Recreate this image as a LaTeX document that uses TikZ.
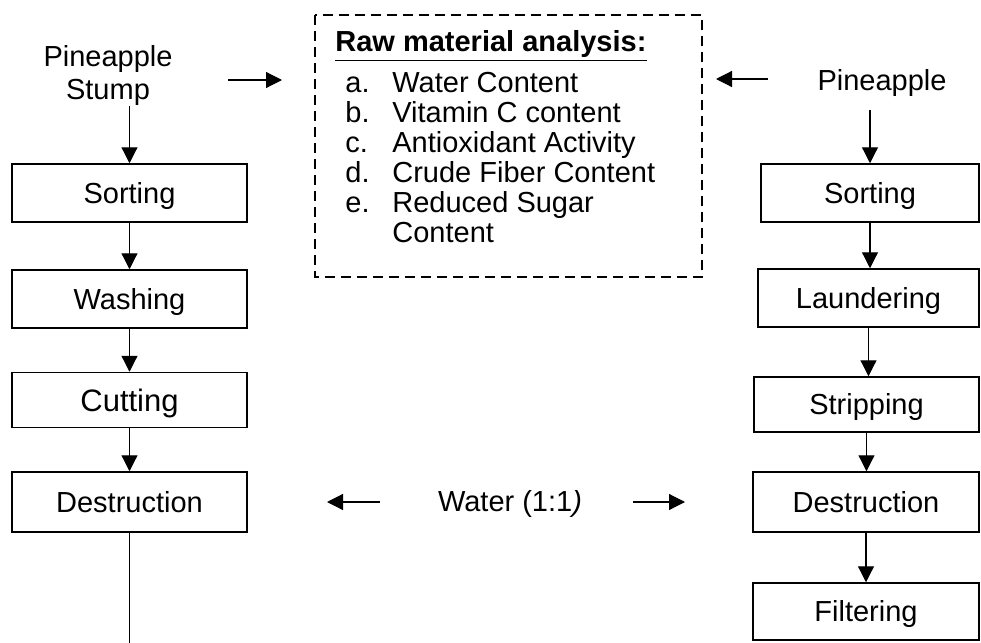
\documentclass[tikz,border=0pt]{standalone}
\usepackage{fontspec}
\setmainfont{Liberation Sans}
\usetikzlibrary{arrows.meta}

\tikzset{
  stepbox/.style={draw, line width=0.75pt, minimum height=29pt, inner sep=0pt,
    text height=10.4pt, text depth=0pt, font=\fontsize{14.5}{17}\selectfont},
  lbox/.style={stepbox, minimum width=117.5pt},
  arr/.style={-{Triangle[length=8pt,width=8pt]}, line width=0.6pt},
  dashbox/.style={draw, dash pattern=on 5pt off 3pt, line width=0.9pt},
  txt/.style={inner sep=0pt, font=\fontsize{14.5}{16.5}\selectfont}
}

\begin{document}
\begin{tikzpicture}[x=0.5pt,y=-0.5pt]
  \useasboundingbox[fill=white] (0,0) rectangle (981,643);

  % left column: pineapple stump
  \node[txt, anchor=north, align=center] (lsrc) at (108,45) {Pineapple\\Stump};
  \node[lbox] (lsort) at (129.5,193) {Sorting};
  \node[lbox] (lwash) at (129.5,299) {Washing};
  \node[lbox, minimum height=27.5pt, text height=11pt, font=\fontsize{15.5}{18}\selectfont] (lcut) at (129.5,400) {Cutting};
  \node[lbox, minimum height=30pt] (ldest) at (129.5,502) {Destruction};
  \coordinate (lend) at (129.5,643);

  % right column: pineapple peel
  \node[txt, anchor=base] (rsrc) at (882,90) {Pineapple};
  \node[stepbox, minimum width=109pt] (rsort) at (870,193) {Sorting};
  \node[stepbox, minimum width=110.5pt] (rlaund) at (868.5,298) {Laundering};
  \node[stepbox, minimum width=112.5pt, minimum height=27.5pt] (rstrip) at (866.5,404.5) {Stripping};
  \node[stepbox, minimum width=113pt, minimum height=30pt] (rdest) at (866,502) {Destruction};
  \node[stepbox, minimum width=113pt, minimum height=28.5pt] (rfilt) at (866,611.5) {Filtering};

  % analysis box
  \draw[dashbox] (315,15) rectangle (702,277);
  \node[txt, anchor=north west, align=left, font=\fontsize{14.5}{15}\selectfont] (raw) at (335,30)
    {\textbf{\underline{Raw material analysis:}}\\[4.5pt]
     \hspace*{5pt}\makebox[23.5pt][l]{a.}Water Content\\
     \hspace*{5pt}\makebox[23.5pt][l]{b.}Vitamin C content\\
     \hspace*{5pt}\makebox[23.5pt][l]{c.}Antioxidant Activity\\
     \hspace*{5pt}\makebox[23.5pt][l]{d.}Crude Fiber Content\\
     \hspace*{5pt}\makebox[23.5pt][l]{e.}Reduced Sugar\\
     \hspace*{28.5pt}Content};

  % water
  \node[txt] (water) at (510,504) {Water (1:1\textit{)}};

  \coordinate (la) at (228,80);
  \coordinate (lb) at (282,80);
  \coordinate (ra) at (768,79);
  \coordinate (rb) at (716,79);
  \coordinate (wla) at (380,502);
  \coordinate (wlb) at (327,502);
  \coordinate (wra) at (633,502);
  \coordinate (wrb) at (685,502);

  \draw[arr] (la) -- (lb);
  \draw[arr] (ra) -- (rb);
  \draw[arr] (wla) -- (wlb);
  \draw[arr] (wra) -- (wrb);

  \draw[arr] (lsrc.south -| lsort.north) -- (lsort.north);
  \draw[arr] (lsort) -- (lwash);
  \draw[arr] (lwash) -- (lcut);
  \draw[arr] (lcut) -- (ldest);
  \draw[line width=0.6pt] (ldest) -- (lend);

  \draw[arr] ([yshift=-7pt]rsrc.south -| rsort.north) -- (rsort.north);
  \draw[arr] (rsort.south) -- (rsort.south |- rlaund.north);
  \draw[arr] (rlaund.south) -- (rlaund.south |- rstrip.north);
  \draw[arr] (rstrip.south) -- (rstrip.south |- rdest.north);
  \draw[arr] (rdest.south) -- (rdest.south |- rfilt.north);
\end{tikzpicture}
\end{document}
